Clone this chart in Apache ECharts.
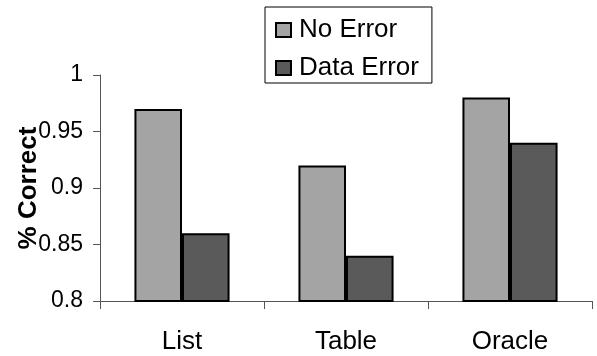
<!DOCTYPE html>
<html>
<head>
<meta charset="utf-8">
<script src="https://cdn.jsdelivr.net/npm/echarts@6/dist/echarts.min.js"></script>
<style>
  html, body { margin: 0; padding: 0; background: #fff; }
  #chart { width: 597px; height: 356px; }
</style>
</head>
<body>
<div id="chart"></div>
<script>
// Accuracy per presentation method, with and without data errors
const categories = ['List', 'Table', 'Oracle'];
const noErrorValues = [0.97, 0.92, 0.98];
const dataErrorValues = [0.86, 0.84, 0.94];
const seriesNames = ['No Error', 'Data Error'];

const FONT = '"Liberation Sans", Arial, sans-serif';
const chart = echarts.init(document.getElementById('chart'), null, { renderer: 'canvas' });

chart.setOption({
  animation: false,
  backgroundColor: '#ffffff',
  textStyle: { fontFamily: FONT },
  grid: { left: 100, right: 5, top: 75, bottom: 55, containLabel: false, outerBoundsMode: 'none' },
  legend: {
    data: seriesNames,
    orient: 'vertical',
    left: 265,
    top: 7,
    padding: [10, 13, 2, 10],
    itemGap: 12,
    itemWidth: 15,
    itemHeight: 14,
    icon: 'rect',
    borderColor: '#000',
    borderWidth: 1,
    borderRadius: 0,
    textStyle: { fontFamily: FONT, fontSize: 26, lineHeight: 26, color: '#000', padding: [0, 0, 0, 3] }
  },
  xAxis: {
    type: 'category',
    data: categories,
    axisLine: { lineStyle: { color: '#555', width: 1 } },
    axisTick: { show: true, length: 8, lineStyle: { color: '#555' } },
    axisLabel: { fontFamily: FONT, fontSize: 26, color: '#000', margin: 28 }
  },
  yAxis: {
    type: 'value',
    min: 0.8,
    max: 1,
    interval: 0.05,
    name: '% Correct',
    nameLocation: 'middle',
    nameGap: 58,
    nameMoveOverlap: false,
    nameTextStyle: { fontFamily: FONT, fontSize: 26, fontWeight: 'bold', color: '#000' },
    splitLine: { show: false },
    axisLine: { show: true, lineStyle: { color: '#555', width: 1 } },
    axisTick: { show: true, length: 7, lineStyle: { color: '#555' } },
    axisLabel: { fontFamily: FONT, fontSize: 23, color: '#000', margin: 17 }
  },
  series: [
    {
      name: seriesNames[0],
      type: 'bar',
      data: noErrorValues,
      barGap: '0%',
      barCategoryGap: '42%',
      itemStyle: { color: '#a4a4a4', borderColor: '#000', borderWidth: 2 }
    },
    {
      name: seriesNames[1],
      type: 'bar',
      data: dataErrorValues,
      barGap: '0%',
      barCategoryGap: '42%',
      itemStyle: { color: '#5a5a5a', borderColor: '#000', borderWidth: 2 }
    }
  ]
});
</script>
</body>
</html>
